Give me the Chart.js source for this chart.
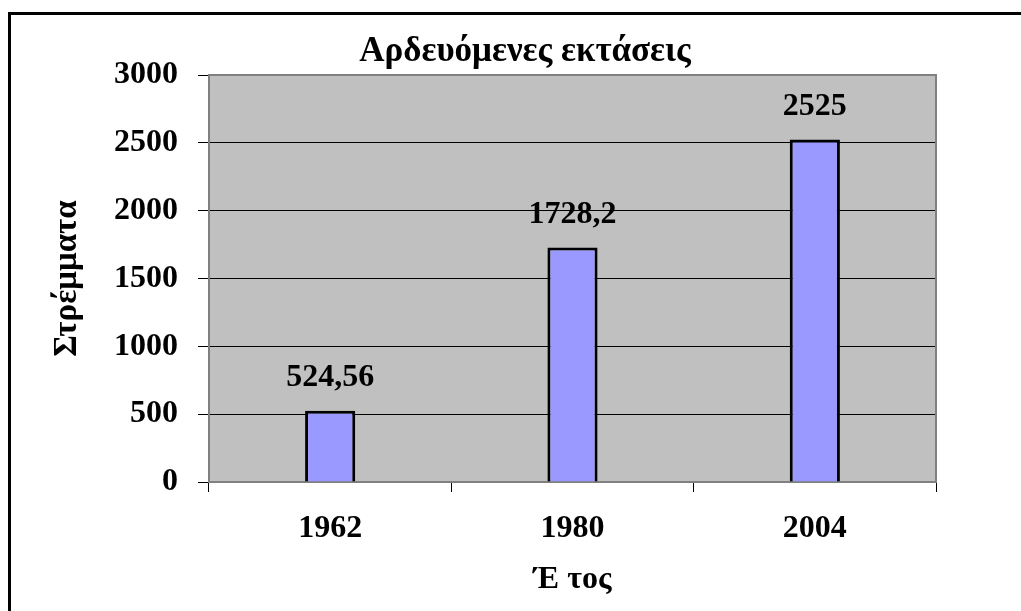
<!DOCTYPE html>
<html>
<head>
<meta charset="utf-8">
<script src="https://cdn.jsdelivr.net/npm/chart.js@4/dist/chart.umd.min.js"></script>
<style>
  html, body { margin: 0; padding: 0; background: #fff; overflow: hidden; }
  #wrap { position: relative; width: 1021px; height: 611px; }
  #frame { position: absolute; left: 8px; top: 12px; width: 1100px; height: 700px; border: 3px solid #000; box-sizing: border-box; pointer-events: none; }
  canvas { position: absolute; left: 0; top: 0; }
</style>
</head>
<body>
<div id="wrap">
  <canvas id="c" width="1021" height="611"></canvas>
  <div id="frame"></div>
</div>
<script>
const categories = ["1962", "1980", "2004"];
const values = [524.56, 1728.2, 2525];
const yTicks = [0, 500, 1000, 1500, 2000, 2500, 3000];
const chartTitle = "Αρδευόμενες εκτάσεις";
const xTitle = "Έ τος";
const yTitle = "Στρέμματα";

const FONT = "'Liberation Serif', 'Times New Roman', serif";

const plotBg = {
  id: 'plotBg',
  beforeDraw(chart) {
    const {ctx, chartArea: a} = chart;
    ctx.save();
    ctx.fillStyle = '#C0C0C0';
    ctx.fillRect(a.left, a.top, a.right - a.left, a.bottom - a.top);
    ctx.restore();
  },
  beforeDatasetsDraw(chart) {
    const {ctx, chartArea: a} = chart;
    ctx.save();
    ctx.strokeStyle = '#808080';
    ctx.lineWidth = 2;
    ctx.beginPath();
    ctx.moveTo(a.left, a.top);
    ctx.lineTo(a.right, a.top);
    ctx.lineTo(a.right, a.bottom);
    ctx.stroke();
    ctx.restore();
  }
};

const valueLabels = {
  id: 'valueLabels',
  afterDatasetsDraw(chart) {
    const {ctx} = chart;
    const meta = chart.getDatasetMeta(0);
    ctx.save();
    ctx.fillStyle = '#000';
    ctx.font = "bold 32px " + FONT;
    ctx.textAlign = 'center';
    ctx.textBaseline = 'middle';
    meta.data.forEach((el, i) => {
      const txt = String(values[i]).replace('.', ',');
      ctx.fillText(txt, el.x, el.y - 33);
    });
    ctx.restore();
  }
};

new Chart(document.getElementById('c'), {
  type: 'bar',
  data: {
    labels: categories,
    datasets: [{
      data: values,
      backgroundColor: '#9999FF',
      borderColor: '#000000',
      borderWidth: 3,
      categoryPercentage: 1,
      barPercentage: 0.207
    }]
  },
  options: {
    responsive: false,
    animation: false,
    devicePixelRatio: 1,
    layout: { padding: { left: 29, right: 0, top: 0, bottom: 0 } },
    plugins: {
      legend: { display: false },
      tooltip: { enabled: false },
      title: {
        display: true,
        text: chartTitle,
        color: '#000',
        font: { family: FONT, size: 35, weight: 'bold', lineHeight: 1.2 },
        padding: { top: 31, bottom: 2 }
      }
    },
    scales: {
      x: {
        offset: true,
        afterFit(s) { s.height = 129; },
        grid: { offset: true, drawOnChartArea: false, drawTicks: true, tickLength: 10, color: '#000', lineWidth: 1 },
        border: { color: '#808080', width: 2 },
        ticks: { color: '#000', padding: 18, font: { family: FONT, size: 32, weight: 'bold' } },
        title: {
          display: true, text: xTitle, color: '#000',
          font: { family: FONT, size: 32, weight: 'bold', lineHeight: 1.2 },
          padding: { top: 0, bottom: 12 }
        }
      },
      y: {
        min: 0, max: 3000,
        afterFit(s) { s.width = 180; },
        afterBuildTicks(s) { s.ticks = yTicks.map(v => ({ value: v })); },
        grid: { color: '#000', lineWidth: 1, tickLength: 11, drawTicks: true },
        border: { color: '#808080', width: 2 },
        ticks: {
          color: '#000', padding: 20,
          font: { family: FONT, size: 32, weight: 'bold' },
          callback: (v) => String(v)
        },
        title: {
          display: true, text: yTitle, color: '#000',
          font: { family: FONT, size: 33, weight: 'bold', lineHeight: 1.2 },
          padding: { top: 19, bottom: 0 }
        }
      },
      spacer: {
        type: 'linear',
        position: 'right',
        display: true,
        afterFit(s) { s.width = 85; },
        grid: { display: false, drawTicks: false },
        border: { display: false },
        ticks: { display: false },
        title: { display: false }
      }
    }
  },
  plugins: [plotBg, valueLabels]
});
</script>
</body>
</html>
